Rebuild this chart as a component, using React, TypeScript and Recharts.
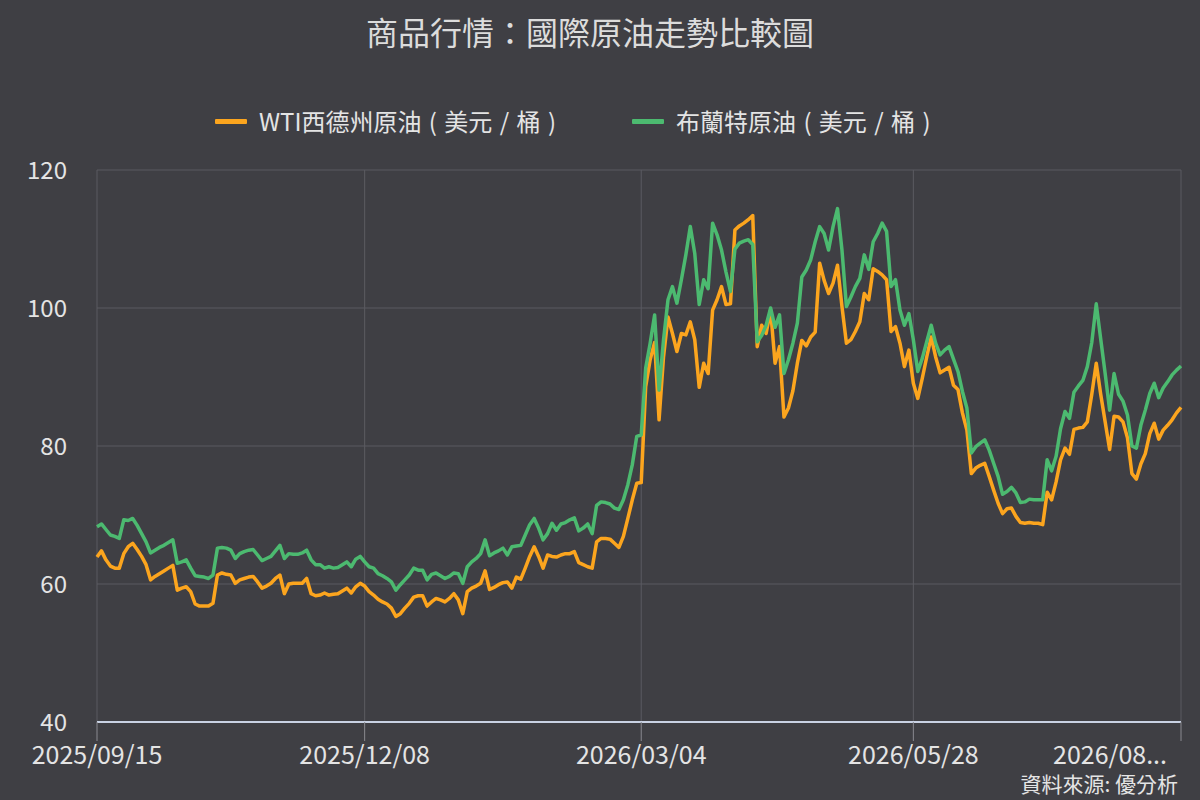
import { LineChart, Line, XAxis, YAxis, CartesianGrid, Legend } from 'recharts';

// ---------------------------------------------------------------------------
// Data (one value per trading day)
// ---------------------------------------------------------------------------

const firstDay = '2025/09/15';
const dayCount = 244;

const xTicks = ['2025/09/15', '2025/12/08', '2026/03/04', '2026/05/28', '2026/08/20'];
const yTicks = [40, 60, 80, 100, 120];

const wtiName = 'WTI西德州原油 ( 美元 / 桶 )';
const brentName = '布蘭特原油 ( 美元 / 桶 )';

const wti = [
  63.9, 64.8, 63.5, 62.6, 62.3, 62.3, 64.4, 65.4, 65.9, 65.0,
  64.0, 62.8, 60.6, 61.1, 61.5, 61.9, 62.3, 62.7, 59.1, 59.4,
  59.6, 58.9, 57.1, 56.8, 56.8, 56.8, 57.2, 61.3, 61.6, 61.4,
  61.3, 60.1, 60.6, 60.8, 61.0, 61.1, 60.3, 59.4, 59.7, 60.1,
  60.8, 61.3, 58.6, 60.0, 60.1, 60.1, 60.1, 60.8, 58.6, 58.3,
  58.4, 58.7, 58.4, 58.5, 58.6, 59.0, 59.4, 58.7, 59.6, 60.1,
  59.7, 58.9, 58.4, 57.8, 57.4, 57.1, 56.5, 55.3, 55.7, 56.5,
  57.2, 58.1, 58.3, 58.3, 56.8, 57.4, 57.9, 57.7, 57.4, 57.9,
  58.6, 57.7, 55.7, 58.9, 59.4, 59.7, 60.1, 61.9, 59.2, 59.5,
  59.9, 60.2, 60.3, 59.4, 61.0, 60.7, 62.3, 64.0, 65.4, 64.0,
  62.3, 64.2, 64.0, 63.9, 64.2, 64.4, 64.4, 64.7, 63.1, 62.8,
  62.5, 62.3, 66.1, 66.6, 66.6, 66.5, 65.9, 65.3, 66.9, 69.5,
  72.2, 74.6, 74.7, 88.6, 92.5, 95.0, 83.8, 92.9, 98.7, 96.3,
  93.7, 96.3, 96.1, 98.0, 95.4, 88.5, 92.0, 90.5, 99.7, 101.2,
  103.1, 100.5, 100.6, 111.3, 111.9, 112.3, 112.8, 113.4, 94.4, 97.5,
  96.3, 99.7, 92.0, 94.4, 84.2, 85.5, 88.0, 92.0, 95.3, 94.5,
  95.8, 96.5, 106.5, 104.0, 102.1, 103.6, 106.2, 100.2, 94.9, 95.4,
  96.6, 98.0, 102.1, 101.2, 105.7, 105.3, 104.8, 104.1, 96.6, 97.3,
  94.9, 91.5, 93.9, 89.1, 86.9, 89.8, 92.9, 95.8, 92.9, 90.6,
  91.0, 91.4, 88.8, 88.2, 84.8, 82.3, 76.0, 76.8, 77.2, 77.5,
  75.6, 73.6, 71.7, 70.2, 70.9, 71.0, 69.8, 68.9, 68.8, 68.9,
  68.8, 68.8, 68.6, 73.3, 72.2, 74.8, 78.0, 79.7, 78.8, 82.4,
  82.6, 82.7, 83.5, 87.5, 92.0, 87.5, 83.5, 79.5, 84.3, 84.2,
  83.5, 81.2, 76.0, 75.2, 77.4, 78.9, 81.8, 83.3, 81.0, 82.3,
  83.0, 83.8, 84.8, 85.6,
];

const brent = [
  68.3, 68.7, 67.9, 67.1, 66.9, 66.6, 69.3, 69.2, 69.5, 68.5,
  67.3, 66.1, 64.5, 64.9, 65.3, 65.6, 66.0, 66.4, 63.0, 63.2,
  63.5, 62.3, 61.2, 61.1, 61.0, 60.8, 61.3, 65.2, 65.3, 65.2,
  64.9, 63.7, 64.4, 64.7, 64.9, 65.0, 64.2, 63.4, 63.7, 64.0,
  64.8, 65.6, 63.7, 64.4, 64.3, 64.3, 64.5, 64.9, 63.5, 62.8,
  62.8, 62.3, 62.5, 62.3, 62.4, 62.8, 63.2, 62.5, 63.6, 64.0,
  63.2, 62.5, 62.3, 61.5, 61.2, 60.8, 60.3, 59.1, 59.9, 60.6,
  61.3, 62.3, 62.0, 62.0, 60.6, 61.4, 61.6, 61.2, 60.8, 61.1,
  61.6, 61.5, 60.1, 62.5, 63.2, 63.7, 64.4, 66.4, 64.1, 64.5,
  64.8, 65.2, 64.2, 65.4, 65.5, 65.6, 67.1, 68.6, 69.5, 68.1,
  66.4, 67.3, 68.8, 67.8, 68.7, 68.9, 69.3, 69.6, 67.7, 68.1,
  68.7, 67.3, 71.4, 71.9, 71.8, 71.6, 71.0, 70.8, 72.2, 74.4,
  77.3, 81.4, 81.6, 91.3, 94.9, 99.0, 88.1, 95.4, 101.2, 103.1,
  100.7, 104.1, 107.7, 111.8, 107.9, 100.5, 104.1, 102.8, 112.3, 110.6,
  108.4, 105.2, 102.4, 108.5, 109.4, 109.7, 109.9, 109.2, 95.1, 96.0,
  97.5, 100.0, 97.2, 99.0, 90.5, 92.5, 94.9, 97.8, 104.5, 105.5,
  107.0, 109.6, 111.8, 110.8, 108.4, 111.8, 114.4, 108.4, 100.2, 101.6,
  103.1, 104.3, 107.7, 105.6, 109.6, 110.8, 112.3, 111.1, 103.1, 104.1,
  99.7, 97.5, 99.2, 95.4, 90.8, 92.7, 95.1, 97.5, 94.9, 93.2,
  93.9, 94.4, 92.6, 90.8, 87.9, 85.5, 79.0, 79.9, 80.4, 80.9,
  79.4, 77.5, 75.6, 73.0, 73.4, 74.0, 73.2, 71.8, 71.9, 72.3,
  72.2, 72.2, 72.2, 78.0, 76.4, 78.5, 82.5, 85.0, 84.0, 87.8,
  88.7, 89.5, 91.5, 95.0, 100.6, 95.5, 90.5, 85.2, 90.5, 87.5,
  86.5, 84.5, 80.0, 79.7, 83.0, 85.2, 87.6, 89.1, 87.0, 88.4,
  89.3, 90.3, 91.0, 91.6,
];

// ---------------------------------------------------------------------------
// Helpers
// ---------------------------------------------------------------------------

// trading days only (Mon-Fri), starting at firstDay
function tradingDays(start: string, n: number): string[] {
  const [y, m, d] = start.split('/').map(Number);
  const day = new Date(Date.UTC(y, m - 1, d));
  const out: string[] = [];
  while (out.length < n) {
    const wd = day.getUTCDay();
    if (wd !== 0 && wd !== 6) {
      const mm = String(day.getUTCMonth() + 1).padStart(2, '0');
      const dd = String(day.getUTCDate()).padStart(2, '0');
      out.push(`${day.getUTCFullYear()}/${mm}/${dd}`);
    }
    day.setUTCDate(day.getUTCDate() + 1);
  }
  return out;
}

const dates = tradingDays(firstDay, dayCount);
const chartData = dates.map((date, i) => ({ date, wti: wti[i], brent: brent[i] }));

const TEXT = '#e4e4e4';
const FONT = '"Noto Sans CJK TC", "Noto Sans", sans-serif';

function DateTick({ x, y, payload }: any) {
  const isLast = payload.value === xTicks[xTicks.length - 1];
  const label = isLast ? `${payload.value.slice(0, 7)}...` : payload.value;
  return (
    <text
      x={isLast ? x - 14 : x}
      y={y + 12}
      dominantBaseline="central"
      textAnchor={isLast ? 'end' : 'middle'}
      fill={TEXT}
      fontSize={25}
    >
      {label}
    </text>
  );
}

function LegendRow({ payload }: any) {
  return (
    <div style={{ display: 'flex', alignItems: 'center', paddingLeft: 215 }}>
      {(payload || []).map((entry: any) => (
        <div key={entry.value} style={{ display: 'flex', alignItems: 'center', marginRight: 76 }}>
          <span style={{ width: 32, height: 5, background: entry.color, marginRight: 12, borderRadius: 1 }} />
          <span style={{ fontSize: 24, color: TEXT, lineHeight: '34px', wordSpacing: 2, whiteSpace: 'pre' }}>
            {entry.value}
          </span>
        </div>
      ))}
    </div>
  );
}

// ---------------------------------------------------------------------------
// Component
// ---------------------------------------------------------------------------

export default function App() {
  return (
    <div
      style={{
        position: 'absolute',
        left: 0,
        top: 0,
        width: 1200,
        height: 800,
        background: '#3f3f44',
        fontFamily: FONT,
        overflow: 'hidden',
      }}
    >
      <div
        style={{
          position: 'absolute',
          top: 10,
          left: 0,
          width: 1180,
          textAlign: 'center',
          fontSize: 32,
          lineHeight: '42px',
          color: '#dcdcdc',
        }}
      >
        商品行情：國際原油走勢比較圖
      </div>

      <LineChart width={1200} height={800} data={chartData} margin={{ top: 170, right: 19, left: 0, bottom: 0 }}>
        <CartesianGrid stroke="#5b5b61" strokeWidth={1} />
        <XAxis
          dataKey="date"
          ticks={xTicks}
          interval={0}
          height={78}
          tickSize={19}
          tickMargin={0}
          axisLine={{ stroke: '#c9d2e4', strokeWidth: 2 }}
          tickLine={{ stroke: '#8a8a90' }}
          tick={<DateTick />}
        />
        <YAxis
          domain={[40, 120]}
          ticks={yTicks}
          width={97}
          axisLine={false}
          tickLine={false}
          tickSize={0}
          tickMargin={30}
          tick={{ fill: TEXT, fontSize: 24 }}
        />
        <Legend
          layout="horizontal"
          verticalAlign="middle"
          align="center"
          wrapperStyle={{ top: 104, left: 0, width: 1200 }}
          content={<LegendRow />}
        />
        <Line
          name={wtiName}
          dataKey="wti"
          stroke="#fca51e"
          strokeWidth={3.5}
          strokeLinejoin="round"
          dot={false}
          activeDot={false}
          isAnimationActive={false}
        />
        <Line
          name={brentName}
          dataKey="brent"
          stroke="#4cba70"
          strokeWidth={3.5}
          strokeLinejoin="round"
          dot={false}
          activeDot={false}
          isAnimationActive={false}
        />
      </LineChart>

      <div
        style={{
          position: 'absolute',
          right: 22,
          top: 771,
          fontSize: 21,
          lineHeight: '24px',
          color: TEXT,
        }}
      >
        資料來源: 優分析
      </div>
    </div>
  );
}
